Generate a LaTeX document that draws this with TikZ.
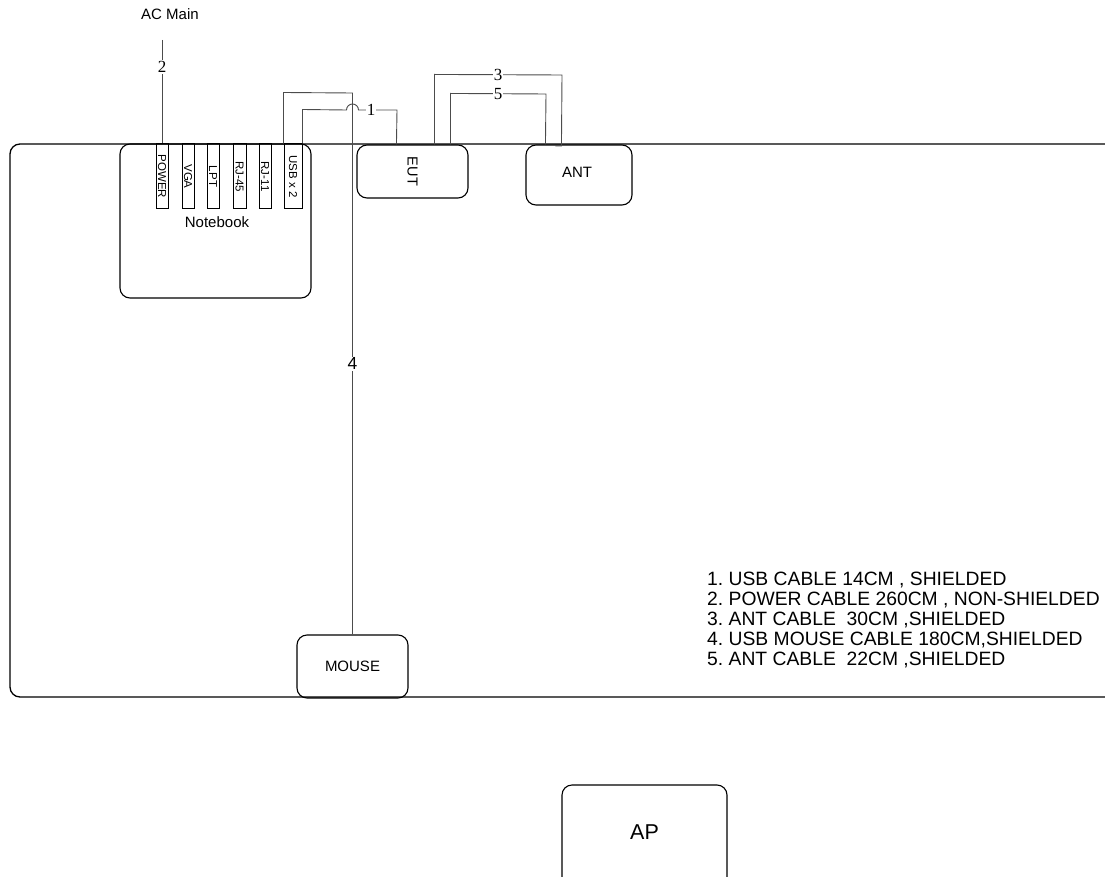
\documentclass[tikz,border=0pt]{standalone}
\usepackage{fontspec}
\setmainfont{Liberation Sans}
\newfontfamily\numfont{Liberation Serif}
\usetikzlibrary{calc}
\frenchspacing
\tikzset{
  box/.style={draw=black, line width=1.1pt, rounded corners=10pt, inner sep=0pt},
  port/.style={draw=black, line width=1pt, inner sep=0pt, minimum height=65pt, font=\fontsize{11.5}{11.5}\selectfont},
  cable/.style={draw=black!70, line width=0.9pt},
  num/.style={fill=white, inner sep=1pt, font=\numfont\fontsize{17}{17}\selectfont},
  txt/.style={inner sep=0pt, font=\fontsize{15}{15}\selectfont}
}
\begin{document}
\begin{tikzpicture}[x=1pt, y=-1pt]
\useasboundingbox (0,0) rectangle (1105,877);
% table
\node[box, line width=1.3pt, minimum width=1120pt, minimum height=553pt] (table) at (570,420.5) {};
% notebook
\node[box, minimum width=191pt, minimum height=154pt] (nb) at (215.5,221) {};
\node[txt] (nblabel) at (217,222) {Notebook};
% ports
\node[port, minimum width=12pt] (power) at (162,176.5) {\rotatebox{-90}{POWER}};
\node[port, minimum width=12pt] (vga) at (188,176.5) {\rotatebox{-90}{VGA}};
\node[port, minimum width=12pt] (lpt) at (213,176.5) {\rotatebox{-90}{LPT}};
\node[port, minimum width=13pt] (rj45) at (239.5,176.5) {\rotatebox{-90}{RJ-45}};
\node[port, minimum width=12pt] (rj11) at (265,176.5) {\rotatebox{-90}{RJ-11}};
\node[port, minimum width=18pt] (usb) at (293,176.5) {\rotatebox{-90}{USB x 2}};
% devices
\node[box, minimum width=111pt, minimum height=53pt, font=\fontsize{14.5}{14.5}\selectfont] (eut) at (412.5,171.5) {\rotatebox{-90}{EUT}};
\node[box, minimum width=106pt, minimum height=60pt] (ant) at (579,175) {};
\node[txt] (antlabel) at (577,172) {ANT};
\node[box, minimum width=111pt, minimum height=63pt, font=\fontsize{15}{15}\selectfont] (mouse) at (352.5,666.5) {MOUSE};
\node[box, minimum width=165pt, minimum height=120pt,
  label={[font=\fontsize{21.5}{21.5}\selectfont, yshift=13pt]center:AP}] (ap) at (644.5,845) {};
% AC main
\node[txt] (acmain) at (170,14) {AC Main};
\coordinate (acend) at (162,40);
% cable 2
\draw[cable] (acend) -- node[num, pos=0.26] (n2) {2} (power.north);
% cable 4
\draw[cable] (usb.north west) -- ++(0,-51) -- (352.5,93) -- node[num, font=\fontsize{17.5}{17.5}\selectfont, pos=0.5] (n4) {4} (mouse.north);
% cable 1
\draw[cable] (usb.north east) -- ++(0,-34) -- (346.5,110) arc[start angle=180, end angle=0, radius=6pt]
  -- node[num, pos=0.33] (n1) {1} (397,110) -- ($(eut.north west)+(40,0)$);
% cable 3
\draw[cable] ($(eut.north west)+(78,0)$) -- ++(0,-70) -- node[num, pos=0.5] (n3) {3} (562,75)
  -- ($(ant.north west)+(36,1.5)$) -- ++(-6,0);
% cable 5
\draw[cable] ($(eut.north west)+(94,0)$) -- ++(0,-51) -- node[num, pos=0.5] (n5) {5} (546,94)
  -- ($(ant.north west)+(20,0)$);
% legend
\node[anchor=north west, inner sep=0pt, align=left, font=\fontsize{19.3}{20}\selectfont] (legend) at (707,571.5)
 {1. USB CABLE 14CM , SHIELDED\\
  2. POWER CABLE 260CM , NON-SHIELDED\\
  3. ANT CABLE\ \ 30CM ,SHIELDED\\
  4. USB MOUSE CABLE 180CM,SHIELDED\\
  5. ANT CABLE\ \ 22CM ,SHIELDED};
\end{tikzpicture}
\end{document}
